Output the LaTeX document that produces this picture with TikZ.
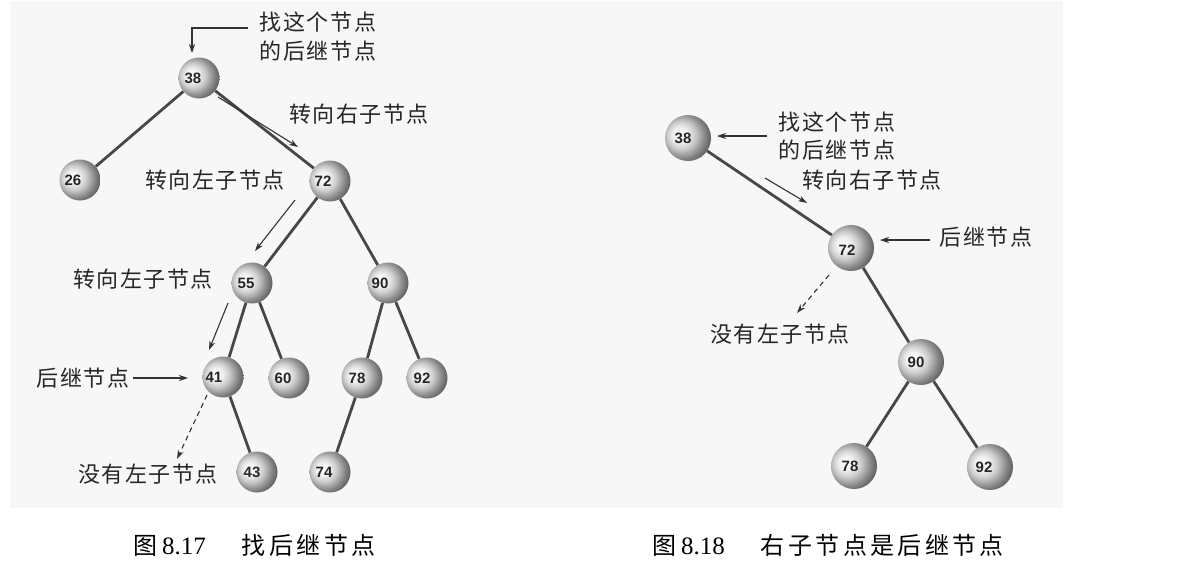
\documentclass[tikz,border=0pt]{standalone}
\usepackage{fontspec}
\newfontfamily\cjk[LetterSpace=7]{Noto Sans CJK SC}
\newfontfamily\cjkcap[LetterSpace=14]{Noto Sans CJK SC}
\newfontfamily\numfont{Liberation Sans}
\newfontfamily\capserif{Liberation Serif}
\usetikzlibrary{arrows.meta}
\pgfdeclareradialshading{sideball}{\pgfpoint{-10bp}{4bp}}{%
  color(0bp)=(white);
  color(8bp)=(black!6);
  color(15bp)=(black!20);
  color(24bp)=(black!47);
  color(32bp)=(black!68);
  color(40bp)=(black!72);
  color(60bp)=(black!72)}
\begin{document}
\begin{tikzpicture}[x=1pt,y=-1pt,
  ballL/.style={circle,minimum size=41pt,inner sep=0pt,shading=sideball},
  ballR/.style={ballL,minimum size=46pt},
  num/.style={font=\numfont\bfseries\fontsize{15}{15}\selectfont,text=black!85,inner sep=0pt},
  edge/.style={line width=2.8pt,draw=black!72},
  arr/.style={line width=1.1pt,draw=black!80,-{Stealth[length=9pt,width=6pt]}},
  darr/.style={arr,dash pattern=on 5pt off 4pt},
  lbl/.style={font=\cjk\fontsize{22}{29}\selectfont,text=black!85,inner sep=0pt,align=center},
  captext/.style={font=\cjkcap\fontsize{24}{24}\selectfont,text=black,inner sep=0pt}]
\useasboundingbox (0,0) rectangle (1203,579);
\fill[black!3] (10,1) rectangle (1063,508);

% ---- left tree ----
\node[ballL,label={[num,xshift=-6pt]center:38}] (a38) at (199,78) {};
\node[ballL,label={[num,xshift=-7pt]center:26}] (a26) at (80,180) {};
\node[ballL,label={[num,xshift=-7pt]center:72}] (a72) at (330,181) {};
\node[ballL,label={[num,xshift=-6pt]center:55}] (a55) at (252,283) {};
\node[ballL,label={[num,xshift=-8pt]center:90}] (a90) at (388,283) {};
\node[ballL,label={[num,xshift=-9pt]center:41}] (a41) at (223,377) {};
\node[ballL,label={[num,xshift=-6pt]center:60}] (a60) at (289,378) {};
\node[ballL,label={[num,xshift=-5pt]center:78}] (a78) at (362,378) {};
\node[ballL,label={[num,xshift=-5pt]center:92}] (a92) at (427,378) {};
\node[ballL,label={[num,xshift=-5pt]center:43}] (a43) at (257,472) {};
\node[ballL,label={[num,xshift=-6pt]center:74}] (a74) at (330,472) {};

\draw[edge] (a38) -- (a26);
\draw[edge] (a38) -- (a72);
\draw[edge] (a72) -- (a55);
\draw[edge] (a72) -- (a90);
\draw[edge] (a55) -- (a41);
\draw[edge] (a55) -- (a60);
\draw[edge] (a90) -- (a78);
\draw[edge] (a90) -- (a92);
\draw[edge] (a41) -- (a43);
\draw[edge] (a78) -- (a74);

\node[lbl] (l1) at (318,37) {找这个节点\\的后继节点};
\node[lbl] (l2) at (359,114) {转向右子节点};
\node[lbl] (l3) at (215,180) {转向左子节点};
\node[lbl] (l4) at (143,279) {转向左子节点};
\node[lbl] (l5) at (83,378) {后继节点};
\node[lbl] (l6) at (148,474) {没有左子节点};

\coordinate (c1s) at (248,28);  \coordinate (c1e) at (192,53);
\coordinate (c2s) at (218,97);  \coordinate (c2e) at (298,147);
\coordinate (c3s) at (295,200); \coordinate (c3e) at (255,251);
\coordinate (c4s) at (228,303); \coordinate (c4e) at (209,350);
\coordinate (c5s) at (133,378); \coordinate (c5e) at (188,378);
\coordinate (c6s) at (207,395); \coordinate (c6e) at (177,459);
\draw[arr] (c1s) -| (c1e);
\draw[arr] (c2s) -- (c2e);
\draw[arr] (c3s) -- (c3e);
\draw[arr] (c4s) -- (c4e);
\draw[arr] (c5s) -- (c5e);
\draw[darr] (c6s) -- (c6e);

% ---- right tree ----
\node[ballR,label={[num,xshift=-5pt]center:38}] (b38) at (688,138) {};
\node[ballR,label={[num,xshift=-4pt,yshift=-2pt]center:72}] (b72) at (851,248) {};
\node[ballR,label={[num,xshift=-5pt]center:90}] (b90) at (921,362) {};
\node[ballR,label={[num,xshift=-4pt]center:78}] (b78) at (854,466) {};
\node[ballR,label={[num,xshift=-6pt]center:92}] (b92) at (990,467) {};

\draw[edge] (b38) -- (b72);
\draw[edge] (b72) -- (b90);
\draw[edge] (b90) -- (b78);
\draw[edge] (b90) -- (b92);

\node[lbl,font=\cjk\fontsize{22}{28}\selectfont] (r1) at (837,136) {找这个节点\\的后继节点};
\node[lbl] (r2) at (872,180) {转向右子节点};
\node[lbl] (r3) at (986,237) {后继节点};
\node[lbl] (r4) at (780,334) {没有左子节点};

\coordinate (d1s) at (767,136); \coordinate (d1e) at (717,136);
\coordinate (d2s) at (765,178); \coordinate (d2e) at (807,203);
\coordinate (d3s) at (930,240); \coordinate (d3e) at (880,240);
\coordinate (d4s) at (829,275); \coordinate (d4e) at (797,313);
\draw[arr] (d1s) -- (d1e);
\draw[arr] (d2s) -- (d2e);
\draw[arr] (d3s) -- (d3e);
\draw[darr] (d4s) -- (d4e);

% ---- captions ----
\node[captext,anchor=west] (cap1) at (133,545) {图\hspace{5pt}{\capserif\fontsize{25}{25}\selectfont 8.17}\hspace{36pt}找后继节点};
\node[captext,anchor=west] (cap2) at (652,545) {图\hspace{5pt}{\capserif\fontsize{25}{25}\selectfont 8.18}\hspace{36pt}右子节点是后继节点};
\end{tikzpicture}
\end{document}
